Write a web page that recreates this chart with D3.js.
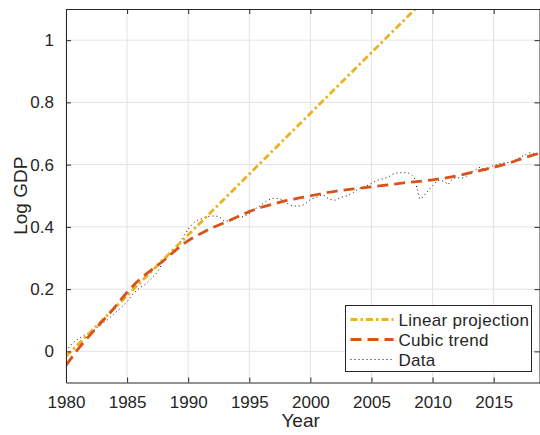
<!DOCTYPE html>
<head>
  <meta charset="utf-8">
  <style>
    body { margin: 0; background: #fff; }
    svg text { font-family: "Liberation Sans", Arial, sans-serif; fill: #262626; }
    svg .grid { stroke: #e3e3e3; stroke-width: 1px; }
  </style>
</head>
<body>
<script src="https://d3js.org/d3.v7.min.js"></script>
<script>
  // quarterly-ish readings of the data series
  var dataYears = [1980.0, 1980.5, 1981.0, 1981.5, 1982.0, 1982.5, 1983.0, 1983.5, 1984.0, 1984.5,
    1985.0, 1985.5, 1986.0, 1986.5, 1987.0, 1987.5, 1988.0, 1988.5, 1989.0, 1989.5,
    1990.0, 1990.5, 1991.0, 1991.5, 1992.0, 1992.5, 1993.0, 1993.5, 1994.0, 1994.5,
    1995.0, 1995.5, 1996.0, 1996.5, 1997.0, 1997.5, 1998.0, 1998.5, 1999.0, 1999.5,
    2000.0, 2000.5, 2001.0, 2001.5, 2002.0, 2002.5, 2003.0, 2003.5, 2004.0, 2004.5,
    2005.0, 2005.5, 2006.0, 2006.5, 2007.0, 2007.5, 2008.0, 2008.5, 2008.75, 2009.0,
    2009.25, 2009.5, 2010.0, 2010.5, 2011.0, 2011.25, 2011.5, 2012.0, 2012.5, 2013.0,
    2013.5, 2014.0, 2014.25, 2014.5, 2015.0, 2015.5, 2016.0, 2016.5, 2017.0, 2017.5,
    2018.0, 2018.5, 2018.75];
  var dataValues = [0.000, 0.025, 0.040, 0.052, 0.060, 0.074, 0.090, 0.105, 0.123, 0.140,
    0.160, 0.185, 0.203, 0.216, 0.235, 0.256, 0.290, 0.310, 0.326, 0.362,
    0.392, 0.415, 0.425, 0.432, 0.435, 0.433, 0.418, 0.423, 0.430, 0.433,
    0.443, 0.458, 0.471, 0.485, 0.492, 0.490, 0.478, 0.468, 0.467, 0.472,
    0.488, 0.495, 0.503, 0.490, 0.486, 0.495, 0.500, 0.510, 0.523, 0.530,
    0.540, 0.550, 0.555, 0.563, 0.573, 0.574, 0.573, 0.557, 0.520, 0.489,
    0.498, 0.510, 0.532, 0.549, 0.545, 0.536, 0.549, 0.558, 0.557, 0.570,
    0.583, 0.592, 0.580, 0.586, 0.597, 0.603, 0.606, 0.610, 0.620, 0.630,
    0.638, 0.635, 0.637];

  // cubic trend readings
  var cubicYears = [1980, 1981, 1982, 1983, 1984, 1985, 1986, 1987, 1988, 1989,
    1990, 1991, 1992, 1993, 1994, 1995, 1996, 1997, 1998, 1999,
    2000, 2002, 2004, 2006, 2008, 2010, 2012, 2014, 2016, 2018, 2018.75];
  var cubicValues = [-0.045, 0.008, 0.054, 0.098, 0.142, 0.190, 0.230, 0.262, 0.292, 0.326,
    0.356, 0.378, 0.398, 0.414, 0.432, 0.449, 0.463, 0.474, 0.484, 0.492,
    0.500, 0.514, 0.524, 0.533, 0.543, 0.551, 0.564, 0.582, 0.602, 0.628, 0.636];

  // linear projection end points
  var linearYears = [1980, 2018.75];
  var linearValues = [-0.016, 1.497];

  var xTicks = [1980, 1985, 1990, 1995, 2000, 2005, 2010, 2015];
  var yTicks = [0, 0.2, 0.4, 0.6, 0.8, 1];

  var legendNames = ["Linear projection", "Cubic trend", "Data"];

  var marginLeft = 66, marginTop = 9,
      width = 473.5, height = 373.5;

  var svg = d3.select("body").append("svg")
      .attr("width", 540)
      .attr("height", 435);

  var g = svg.append("g")
      .attr("transform", "translate(" + marginLeft + "," + marginTop + ")");

  var xScale = d3.scaleLinear().domain([1980, 2018.75]).range([0, width]);
  var yScale = d3.scaleLinear().domain([-0.1, 1.1]).range([height, 0]);

  // grid
  g.selectAll("line.xgrid").data(xTicks).enter().append("line")
      .classed("grid", true)
      .attr("x1", function(d) { return xScale(d); })
      .attr("x2", function(d) { return xScale(d); })
      .attr("y1", 0).attr("y2", height);
  g.selectAll("line.ygrid").data(yTicks).enter().append("line")
      .classed("grid", true)
      .attr("y1", function(d) { return yScale(d); })
      .attr("y2", function(d) { return yScale(d); })
      .attr("x1", 0).attr("x2", width);

  g.append("clipPath").attr("id", "clip")
    .append("rect").attr("width", width).attr("height", height);

  var plot = g.append("g").attr("clip-path", "url(#clip)");

  var line = d3.line()
      .x(function(d) { return xScale(d[0]); })
      .y(function(d) { return yScale(d[1]); });

  plot.append("path")   // data
      .datum(d3.zip(dataYears, dataValues))
      .attr("d", line.curve(d3.curveMonotoneX))
      .style("fill", "none")
      .style("stroke", "#111")
      .style("stroke-width", 1)
      .style("stroke-dasharray", "1,3");

  plot.append("path")   // linear projection
      .datum(d3.zip(linearYears, linearValues))
      .attr("d", line.curve(d3.curveLinear))
      .style("fill", "none")
      .style("stroke", "#EDB120")
      .style("stroke-width", 2.8)
      .style("stroke-dasharray", "7,3,2.5,3");

  plot.append("path")   // cubic trend
      .datum(d3.zip(cubicYears, cubicValues))
      .attr("d", line.curve(d3.curveMonotoneX))
      .style("fill", "none")
      .style("stroke", "#D95319")
      .style("stroke-width", 2.8)
      .style("stroke-dasharray", "11,6");

  // axes
  var axisColor = "#262626";
  function styleAxis(sel) {
    sel.selectAll(".domain").attr("stroke", axisColor).attr("stroke-width", 1);
    sel.selectAll(".tick line").attr("stroke", axisColor);
    sel.selectAll(".tick text").style("fill", axisColor);
  }

  g.append("g")
      .attr("transform", "translate(0," + height + ")")
      .call(d3.axisBottom(xScale).tickValues(xTicks).tickFormat(d3.format("d"))
        .tickSizeInner(-5).tickSizeOuter(0).tickPadding(13))
      .call(styleAxis);
  g.append("g")
      .call(d3.axisTop(xScale).tickValues(xTicks).tickFormat("")
        .tickSizeInner(-5).tickSizeOuter(0))
      .call(styleAxis);
  g.append("g")
      .call(d3.axisLeft(yScale).tickValues(yTicks).tickFormat(d3.format("~g"))
        .tickSizeInner(-5).tickSizeOuter(0).tickPadding(12))
      .call(styleAxis);
  g.append("g")
      .attr("transform", "translate(" + width + ",0)")
      .call(d3.axisRight(yScale).tickValues(yTicks).tickFormat("")
        .tickSizeInner(-5).tickSizeOuter(0))
      .call(styleAxis);

  g.selectAll(".tick text").style("font-size", "17px")
      .style("font-family", "Liberation Sans, Arial, sans-serif");

  // axis labels
  svg.append("text")
      .attr("x", marginLeft + xScale(1999.2))
      .attr("y", 427)
      .style("text-anchor", "middle")
      .style("font-size", "19px")
      .text("Year");
  svg.append("text")
      .attr("transform", "translate(27," + (marginTop + height / 2) + ") rotate(-90)")
      .style("text-anchor", "middle")
      .style("font-size", "19px")
      .text("Log GDP");

  // legend
  var legend = svg.append("g").attr("transform", "translate(345.5,305.5)");
  legend.append("rect")
      .attr("width", 186)
      .attr("height", 66)
      .style("fill", "#fff")
      .style("stroke", axisColor)
      .style("stroke-width", 1);

  var legendStyles = [
    { color: "#EDB120", width: 2.8, dash: "7,3,2.5,3" },
    { color: "#D95319", width: 2.8, dash: "11,6" },
    { color: "#111", width: 1, dash: "1,3" }
  ];

  legendNames.forEach(function(name, i) {
    var yy = 14 + i * 20;
    legend.append("line")
        .attr("x1", 5).attr("x2", 48)
        .attr("y1", yy).attr("y2", yy)
        .style("stroke", legendStyles[i].color)
        .style("stroke-width", legendStyles[i].width)
        .style("stroke-dasharray", legendStyles[i].dash);
    legend.append("text")
        .attr("x", 53)
        .attr("y", yy + 6)
        .style("font-size", "17px")
        .style("letter-spacing", "0.3px")
        .text(name);
  });
</script>
</body>
</html>
